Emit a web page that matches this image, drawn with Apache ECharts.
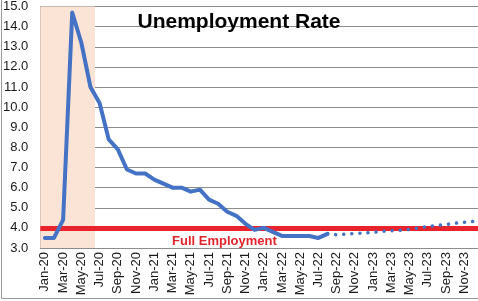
<!DOCTYPE html>
<html>
<head>
<meta charset="utf-8">
<script src="https://cdn.jsdelivr.net/npm/echarts@6/dist/echarts.min.js"></script>
<style>
html,body{margin:0;padding:0;background:#fff;}
#chart{width:478px;height:301px;}
</style>
</head>
<body>
<div id="chart"></div>
<script>
var categories = ['Jan-20','Feb-20','Mar-20','Apr-20','May-20','Jun-20','Jul-20','Aug-20','Sep-20','Oct-20','Nov-20','Dec-20',
  'Jan-21','Feb-21','Mar-21','Apr-21','May-21','Jun-21','Jul-21','Aug-21','Sep-21','Oct-21','Nov-21','Dec-21',
  'Jan-22','Feb-22','Mar-22','Apr-22','May-22','Jun-22','Jul-22','Aug-22','Sep-22','Oct-22','Nov-22','Dec-22',
  'Jan-23','Feb-23','Mar-23','Apr-23','May-23','Jun-23','Jul-23','Aug-23','Sep-23','Oct-23','Nov-23','Dec-23'];

var actualRate = [3.5,3.5,4.4,14.7,13.2,11.0,10.2,8.4,7.9,6.9,6.7,6.7,
  6.4,6.2,6.0,6.0,5.8,5.9,5.4,5.2,4.8,4.6,4.2,3.9,
  4.0,3.8,3.6,3.6,3.6,3.6,3.5,3.7];

var forecastRate = [null,null,null,null,null,null,null,null,null,null,null,null,
  null,null,null,null,null,null,null,null,null,null,null,null,
  null,null,null,null,null,null,null,3.7,3.66,3.69,3.72,3.74,
  3.78,3.83,3.86,3.88,3.93,4.0,4.07,4.12,4.17,4.23,4.28,4.32];

var yTicks = [3,4,5,6,7,8,9,10,11,12,13,14,15];
var fullEmployment = 4.0;
var shadedFrom = 'Jan-20';
var shadedTo = 'Jun-20';

var chart = echarts.init(document.getElementById('chart'));
var font = 'Liberation Sans';
chart.setOption({
  animation: false,
  backgroundColor: '#fff',
  title: {
    text: 'Unemployment Rate',
    left: 'center',
    top: 7,
    textStyle: {fontFamily: font, fontSize: 21, fontWeight: 'bold', color: '#000'}
  },
  grid: {left: 39.5, top: 6, bottom: 53, right: -2, containLabel: false},
  xAxis: {
    type: 'category',
    data: categories,
    boundaryGap: true,
    axisLine: {lineStyle: {color: '#8c8c8c', width: 1}},
    axisTick: {show: false, interval: 1},
    axisLabel: {interval: 1, rotate: 90, margin: 4, fontFamily: font, fontSize: 13, color: '#1a1a1a'}
  },
  yAxis: {
    type: 'value',
    min: yTicks[0],
    max: yTicks[yTicks.length - 1],
    interval: 1,
    axisLine: {show: true, lineStyle: {color: '#8c8c8c', width: 1}},
    axisTick: {show: false},
    splitLine: {lineStyle: {color: '#8c8c8c', width: 1}},
    axisLabel: {margin: 12, fontFamily: font, fontSize: 13, color: '#1a1a1a',
      formatter: function (v) { return v.toFixed(1); }}
  },
  graphic: [
    {type: 'rect', shape: {x: 1.5, y: -5, width: 490, height: 303.5}, style: {fill: 'none', stroke: '#9a9a9a', lineWidth: 1}, silent: true},
    {type: 'text', left: 172, top: 235, z: 100,
      style: {text: 'Full Employment', fill: '#E0242B', font: 'bold 13px "Liberation Sans"'}}
  ],
  series: [
    {
      type: 'bar',
      data: [],
      silent: true,
      z: 0,
      markArea: {
        silent: true,
        itemStyle: {color: '#FBE3D5'},
        data: [[{xAxis: shadedFrom}, {xAxis: shadedTo}]]
      }
    },
    {
      type: 'line',
      data: actualRate,
      symbol: 'none',
      z: 3,
      lineStyle: {color: '#4472C4', width: 4, join: 'round', cap: 'round'},
      markLine: {
        silent: true,
        symbol: ['none', 'none'],
        label: {show: false},
        lineStyle: {color: '#E8232B', width: 5, type: 'solid'},
        data: [{yAxis: fullEmployment}],
        z: 2
      }
    },
    {
      type: 'line',
      data: forecastRate,
      symbol: 'none',
      z: 4,
      lineStyle: {color: '#4472C4', width: 3.5, type: [0.1, 8], cap: 'round'}
    }
  ]
});
</script>
</body>
</html>
